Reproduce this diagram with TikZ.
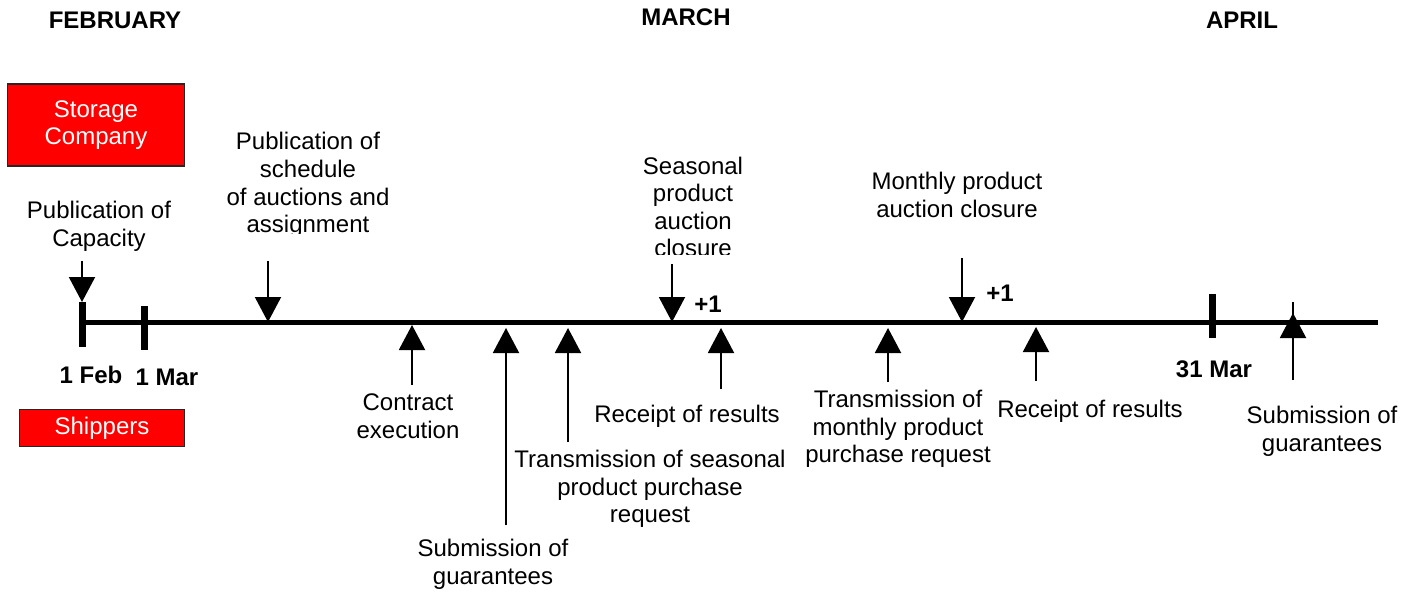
\documentclass[tikz,border=0pt]{standalone}
\usepackage{fontspec}
\setmainfont{Liberation Sans}
\usetikzlibrary{arrows.meta}
\definecolor{boxred}{HTML}{FF0000}
\begin{document}
\begin{tikzpicture}[x=0.5pt,y=-0.5pt,
  lbl/.style={font=\fontsize{12pt}{13.8pt}\selectfont, align=center, inner sep=0pt},
  month/.style={font=\fontsize{12pt}{13.8pt}\selectfont\bfseries, inner sep=0pt},
  datelbl/.style={font=\fontsize{12pt}{13.8pt}\selectfont\bfseries, inner sep=0pt},
  redbox/.style={fill=boxred, draw=black!85, line width=0.75pt, text=white, align=center,
     font=\fontsize{12pt}{13.8pt}\selectfont, inner sep=0pt},
  axis/.style={line width=2.5pt},
  tickmark/.style={line width=3.5pt},
  evarrow/.style={line width=1pt, -{Triangle[width=13pt,length=12.5pt]}},
  plain/.style={line width=1pt}]
\useasboundingbox (0,0) rectangle (1417,594);
% months
\node[month] (feb) at (115,20) {FEBRUARY};
\node[month] (mar) at (686,17) {MARCH};
\node[month] (apr) at (1242,20) {APRIL};
% actor boxes
\node[redbox, minimum width=88.5pt, minimum height=41pt] (storage) at (96,125) {Storage\\Company};
\node[redbox, minimum width=82.5pt, minimum height=18.5pt] (shippers) at (102,428) {Shippers};
% axis
\coordinate (start) at (82,322);
\coordinate (end) at (1378,322);
\draw[axis] (start) -- (end);
% ticks
\coordinate (febT) at (82,302); \coordinate (febB) at (82,347);
\coordinate (marT) at (144,306); \coordinate (marB) at (144,350);
\coordinate (m31T) at (1212,294); \coordinate (m31B) at (1212,338);
\draw[tickmark] (febT) -- (febB);
\draw[tickmark] (marT) -- (marB);
\draw[tickmark] (m31T) -- (m31B);
\node[datelbl] (lfeb) at (91,375) {1 Feb};
\node[datelbl] (lmar) at (167,377) {1 Mar};
\node[datelbl] (l31) at (1214,369) {31 Mar};
% down arrows (Storage Company events)
\node[lbl] (pubcap) at (99,226) {Publication of\\Capacity};
\coordinate (pubcapA) at (82,261);
\draw[evarrow] (pubcapA) -- (febT);
\begin{scope}
\clip (150,120) rectangle (470,233);
\node[lbl] (pubsched) at (308,185) {Publication of\\schedule\\of auctions and\\assignment};
\end{scope}
\coordinate (pubschedA) at (268,261); \coordinate (pubschedB) at (268,322);
\draw[evarrow] (pubschedA) -- (pubschedB);
\begin{scope}
\clip (600,140) rectangle (790,254);
\node[lbl] (season) at (693,207) {Seasonal\\product\\auction\\closure};
\end{scope}
\coordinate (seasonA) at (672,264); \coordinate (seasonB) at (672,322);
\draw[evarrow] (seasonA) -- (seasonB);
\node[datelbl] (plus1) at (708,304) {+1};
\node[lbl] (monthly) at (957,195) {Monthly product\\auction closure};
\coordinate (monthlyA) at (962,258); \coordinate (monthlyB) at (962,322);
\draw[evarrow] (monthlyA) -- (monthlyB);
\node[datelbl] (plus2) at (1000,293) {+1};
% up arrows (Shippers events)
\node[lbl] (contract) at (408,416) {Contract\\execution};
\coordinate (contractA) at (412,385); \coordinate (contractB) at (412,325);
\draw[evarrow] (contractA) -- (contractB);
\node[lbl] (subg1) at (493,564) {Submission of\\guarantees};
\coordinate (subg1A) at (506,525); \coordinate (subg1B) at (506,328);
\draw[evarrow] (subg1A) -- (subg1B);
\node[lbl] (transs) at (650,489) {Transmission of seasonal\\product purchase\\request};
\coordinate (transsA) at (568,442); \coordinate (transsB) at (568,328);
\draw[evarrow] (transsA) -- (transsB);
\node[lbl] (rec1) at (687,416) {Receipt of results};
\coordinate (rec1A) at (721,389); \coordinate (rec1B) at (721,328);
\draw[evarrow] (rec1A) -- (rec1B);
\node[lbl] (transm) at (898,429) {Transmission of\\monthly product\\purchase request};
\coordinate (transmA) at (888,382); \coordinate (transmB) at (888,328);
\draw[evarrow] (transmA) -- (transmB);
\node[lbl] (rec2) at (1090,411) {Receipt of results};
\coordinate (rec2A) at (1036,381); \coordinate (rec2B) at (1036,327);
\draw[evarrow] (rec2A) -- (rec2B);
\node[lbl] (subg2) at (1322,431) {Submission of\\guarantees};
\coordinate (subg2T) at (1293,302); \coordinate (subg2A) at (1293,380); \coordinate (subg2B) at (1293,313);
\draw[plain] (subg2T) -- (subg2A);
\draw[evarrow] (subg2A) -- (subg2B);
\end{tikzpicture}
\end{document}
